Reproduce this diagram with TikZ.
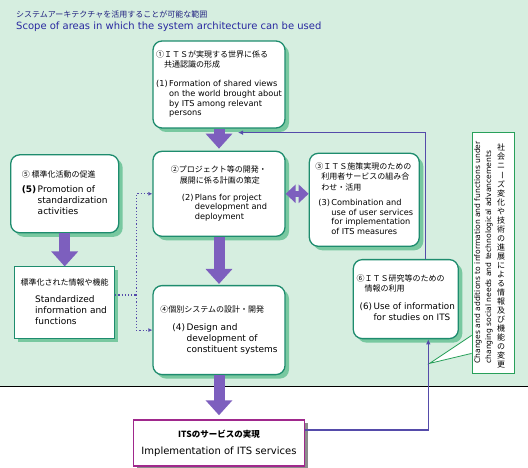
\documentclass[tikz,border=0pt]{standalone}
\usepackage{fontspec}
\setmainfont{DejaVu Sans}
\newfontfamily\jp{Noto Sans CJK JP}
\usetikzlibrary{arrows.meta}
\usetikzlibrary{positioning,shadows,calc}

\definecolor{bggreen}{RGB}{214,238,224}
\definecolor{boxteal}{RGB}{30,140,110}
\definecolor{shadegreen}{RGB}{120,200,160}
\definecolor{arrowpurple}{RGB}{125,95,190}
\definecolor{linepurple}{RGB}{85,75,170}
\definecolor{implpurple}{RGB}{160,40,140}
\definecolor{calloutgreen}{RGB}{40,160,90}
\definecolor{titleblue}{RGB}{40,40,160}

\newcommand{\jplines}[1]{{\jp\fontsize{8}{10.5}\selectfont\begin{tabular}{@{}l@{}}#1\end{tabular}}}
\newcommand{\enlines}[2]{#1\,\begin{tabular}[t]{@{}l@{}}#2\end{tabular}}

\tikzset{itsbox/.style={rectangle,rounded corners=9pt,draw=boxteal,line width=1.3pt,fill=white,
			align=left,inner sep=3pt,
			drop shadow={shadow xshift=4pt,shadow yshift=-4pt,fill=shadegreen,opacity=1}},
		stdbox/.style={rectangle,draw=boxteal,line width=1pt,fill=white,align=left,inner sep=2pt,
			drop shadow={shadow xshift=3pt,shadow yshift=-3pt,fill=shadegreen,opacity=1}},
		implbox/.style={rectangle,draw=implpurple,line width=1.3pt,fill=white,align=center,
			drop shadow={shadow xshift=3pt,shadow yshift=-3pt,fill=black!45,opacity=1}},
		notebox/.style={rectangle,draw=calloutgreen,line width=0.8pt,fill=white},
		smalltext/.style={font=\fontsize{8.2}{9.7}\selectfont},
		bigtext/.style={font=\fontsize{9}{11}\selectfont},
		bigarrow/.style={draw=arrowpurple,line width=11pt,-{Triangle[width=26pt,length=15pt]}},
		twoarrow/.style={draw=arrowpurple,line width=6pt,{Triangle[width=18pt,length=10pt]}-{Triangle[width=18pt,length=10pt]}},
		fback/.style={draw=linepurple,line width=1.2pt,-{Latex[length=5pt,width=4.5pt]}},
		dotline/.style={draw=linepurple,line width=1.2pt,dotted,-{Latex[length=4pt,width=4pt]}}}

\begin{document}
\begin{tikzpicture}[x=1pt,y=-1pt]
	\useasboundingbox (0,0) rectangle (528,468);
	\fill[white] (0,0) rectangle (528,468);
	\fill[bggreen] (0,0) rectangle (528,386);
	\draw[line width=0.8pt] (0,386) -- (528,386);

	\node [anchor=base west,inner sep=0,text=titleblue!80!black,font=\jp\fontsize{8}{10}\selectfont] (titlejp) at (16,18)
		{システムアーキテクチャを活用することが可能な範囲};
	\node [anchor=base west,inner sep=0,text=titleblue,font=\fontsize{10}{12}\selectfont] (titleen) at (16,30)
		{Scope of areas in which the system architecture can be used};

	\node [itsbox,smalltext,minimum width=132pt,minimum height=87pt] (b1) at (219,84.5)
		{\jplines{①ＩＴＳが実現する世界に係る\\\hspace{8pt}共通認識の形成}\\[8pt]
		 \enlines{(1)}{Formation of shared views\\on the world brought about\\by ITS among relevant\\persons}};
	\node [itsbox,smalltext,minimum width=132pt,minimum height=85pt] (b2) [below=22pt of b1]
		{\jplines{②プロジェクト等の開発・\\\hspace{9pt}展開に係る計画の策定}\\[6pt]
		 \hspace*{11pt}\enlines{(2)}{Plans for project\\development and\\deployment}};
	\node [itsbox,smalltext,minimum width=110pt,minimum height=93pt] (b3) [right=23pt of b2,yshift=-6pt]
		{\jplines{③ＩＴＳ施策実現のための\\\hspace{6pt}利用者サービスの組み合\\\hspace{6pt}わせ・活用}\\[4pt]
		 \hspace*{3pt}\enlines{(3)}{Combination and\\use of user services\\for implementation\\of ITS measures}};
	\node [itsbox,bigtext,minimum width=108pt,minimum height=78pt] (b5) [left=33pt of b2]
		{\jplines{⑤ 標準化活動の促進}\\[4pt]
		 \enlines{\textbf{(5)}}{Promotion of\\standardization\\activities}};
	\node [stdbox,bigtext,minimum width=100pt,minimum height=72pt] (bstd) [below=33pt of b5]
		{\jplines{標準化された情報や機能}\\[7pt]
		 \hspace*{13pt}\enlines{}{Standardized\\information and\\functions}};
	\node [itsbox,bigtext,minimum width=132pt,minimum height=89pt] (b4) [below=48pt of b2]
		{\jplines{④個別システムの設計・開発}\\[7pt]
		 \hspace*{12pt}\enlines{(4)}{Design and\\development of\\constituent systems}};
	\node [itsbox,bigtext,font=\fontsize{8.8}{11}\selectfont,inner xsep=2pt,minimum width=105pt,minimum height=79pt] (b6)
		[below=12pt of b3,xshift=41.5pt]
		{\jplines{⑥ＩＴＳ研究等のための\\\hspace{8pt}情報の利用}\\[6pt]
		 \hspace*{3pt}\enlines{(6)}{Use of information\\for studies on ITS}};
	\node [implbox,font=\fontsize{10}{12}\selectfont,minimum width=171pt,minimum height=46pt] (impl) [below=44pt of b4]
		{{\jp\bfseries\fontsize{8.5}{10}\selectfont ITSのサービスの実現}\\[5pt]Implementation of ITS services};

	% callout
	\node [notebox,minimum width=42pt,minimum height=241pt] (note) at (493,252.5) {};
	\coordinate (ptip) at ([xshift=-42pt,yshift=10pt]note.south west);
	\fill[white] ([yshift=20pt]note.south west) -- (ptip) -- ([yshift=38pt]note.south west) -- cycle;
	\draw[white,line width=1.5pt] ([yshift=21pt]note.south west) -- ([yshift=37pt]note.south west);
	\draw[calloutgreen,line width=0.8pt] ([yshift=20pt]note.south west) -- (ptip) -- ([yshift=38pt]note.south west);
	\node [rotate=90,align=left,inner sep=0,font=\fontsize{7.6}{11}\selectfont] (noteen) at ([xshift=-9.5pt,yshift=0pt]note.center)
		{Changes and additions to information and functions under\\changing social needs and technological advancements};
	\node [align=center,inner sep=0,font=\jp\fontsize{8}{9}\selectfont] (notejp) at ([xshift=8pt,yshift=-3pt]note.center)
		{社\\会\\ニ\\\rotatebox[origin=c]{-90}{ー}\\ズ\\変\\化\\や\\技\\術\\の\\進\\展\\に\\よ\\る\\情\\報\\及\\び\\機\\能\\の\\変\\更};

	% arrows
	\draw[bigarrow,shorten >=2pt] (b1.south) -- (b2.north);
	\draw[bigarrow,shorten >=1pt] (b2.south) -- (b4.north);
	\draw[bigarrow,shorten >=4pt] (b4.south) -- (impl.north);
	\draw[bigarrow] (b5.south) -- (b5.south |- bstd.north);
	\draw[twoarrow] (b2.east) -- (b2.east -| b3.west);

	\coordinate (split) at ([xshift=21pt,yshift=8pt]bstd.east);
	\draw[dotline,-] ([yshift=8pt]bstd.east) -- (split);
	\draw[dotline] (split) |- (b2.west);
	\draw[dotline] (split) |- (b4.west);

	\coordinate (fbtip) at ([xshift=19pt,yshift=-4pt]b1.south);
	\draw[fback] ([yshift=13pt]impl.east) -| ([xshift=22.5pt]b6.south);
	\draw[fback] ([xshift=19.5pt]b6.north) |- (fbtip);
\end{tikzpicture}
\end{document}
